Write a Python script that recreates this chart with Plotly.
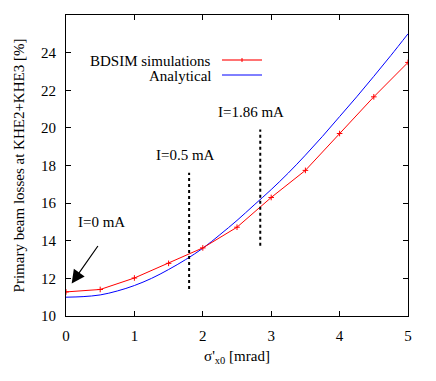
import plotly.graph_objects as go

# ── Data ──────────────────────────────────────────────────────────────────────
sim_x = [0, 0.5, 1, 1.5, 2, 2.5, 3, 3.5, 4, 4.5, 5]
sim_y = [11.28, 11.41, 12.02, 12.8, 13.62, 14.72, 16.3, 17.74, 19.7, 21.65, 23.48]

ana_x = [0, 0.25, 0.5, 0.75, 1, 1.25, 1.5, 1.75, 2, 2.25, 2.5, 2.75,
         3, 3.25, 3.5, 3.75, 4, 4.25, 4.5, 4.75, 5]
ana_y = [11.0, 11.03, 11.12, 11.33, 11.62, 12.0, 12.47, 13.0, 13.6, 14.32,
         15.08, 15.9, 16.72, 17.6, 18.55, 19.55, 20.6, 21.65, 22.74, 23.85, 25.0]

cur_x = [1.8, 2.84]
cur_low = [11.43, 13.73]
cur_high = [17.62, 19.92]

FONT = "Liberation Serif, Times New Roman, Times, serif"
RED = "#ff0000"
BLUE = "#0000ff"

# plot box in page pixels (page body has an 8px margin)
PAD = 8
L, R, T, B = 66, 408, 15, 316


def px(x):
    return (x - L) / (R - L)


def py(y):
    return (B - y) / (B - T)


fig = go.Figure()

fig.add_trace(go.Scatter(
    x=ana_x, y=ana_y, mode="lines", line=dict(color=BLUE, width=1, shape="spline"),
    showlegend=False,
))
fig.add_trace(go.Scatter(
    x=sim_x, y=sim_y, mode="lines+markers",
    line=dict(color=RED, width=1),
    marker=dict(symbol="cross-thin", size=4, line=dict(color=RED, width=1)),
    showlegend=False,
))
for cx, lo, hi in zip(cur_x, cur_low, cur_high):
    fig.add_trace(go.Scatter(
        x=[cx, cx], y=[lo, hi], mode="lines",
        line=dict(color="black", width=2, dash="dot"), showlegend=False,
    ))

# current labels
for txt, tx, ty in [("I=0 mA", 0.52, 15.0), ("I=0.5 mA", 1.75, 18.55),
                    ("I=1.86 mA", 2.71, 20.84)]:
    fig.add_annotation(x=tx, y=ty, text=txt, showarrow=False, yanchor="middle",
                       font=dict(family=FONT, size=15, color="black"))

fig.add_annotation(x=0.083, y=11.73, ax=0.482, ay=13.8, axref="x", ayref="y",
                   text="", showarrow=True, arrowhead=2, arrowsize=2.2,
                   arrowwidth=1.2, arrowcolor="black")

# legend (text right-aligned, sample on the right, as in gnuplot)
fig.add_annotation(xref="paper", yref="paper", x=px(213), y=py(61),
                   xanchor="right", yanchor="middle", text="BDSIM simulations",
                   showarrow=False, font=dict(family=FONT, size=15, color="black"))
fig.add_annotation(xref="paper", yref="paper", x=px(213), y=py(76),
                   xanchor="right", yanchor="middle", text="Analytical",
                   showarrow=False, font=dict(family=FONT, size=15, color="black"))
fig.add_shape(type="line", xref="paper", yref="paper", x0=px(222), x1=px(262),
              y0=py(60), y1=py(60), line=dict(color="rgba(255,0,0,0.55)", width=2))
fig.add_shape(type="line", xref="paper", yref="paper", x0=px(242), x1=px(242),
              y0=py(58), y1=py(62), line=dict(color=RED, width=1))
fig.add_shape(type="line", xref="paper", yref="paper", x0=px(222), x1=px(262),
              y0=py(75), y1=py(75), line=dict(color=BLUE, width=1))

axis_common = dict(
    showline=True, linecolor="black", linewidth=1, mirror="allticks",
    ticks="inside", ticklen=5, tickcolor="black", showgrid=False, zeroline=False,
    automargin=False,
    tickfont=dict(family=FONT, size=15, color="black"),
)

W, H = 436 - PAD, 381 - PAD
fig.update_layout(
    width=W, height=H,
    margin=dict(l=L - PAD, r=W - (R - PAD), t=T - PAD, b=H - (B - PAD)),
    plot_bgcolor="white", paper_bgcolor="white",
    font=dict(family=FONT, size=15, color="black"),
    xaxis=dict(range=[0, 5], dtick=1, ticklabelstandoff=6,
               title=dict(text="σ'<sub>x0</sub> [mrad]", standoff=7,
                          font=dict(family=FONT, size=15)),
               **axis_common),
    yaxis=dict(range=[10, 26], dtick=2, ticklabelstandoff=6,
               title=dict(text="Primary beam losses at KHE2+KHE3 [%]", standoff=12,
                          font=dict(family=FONT, size=15)),
               **axis_common),
)

fig.write_html("out.html")
